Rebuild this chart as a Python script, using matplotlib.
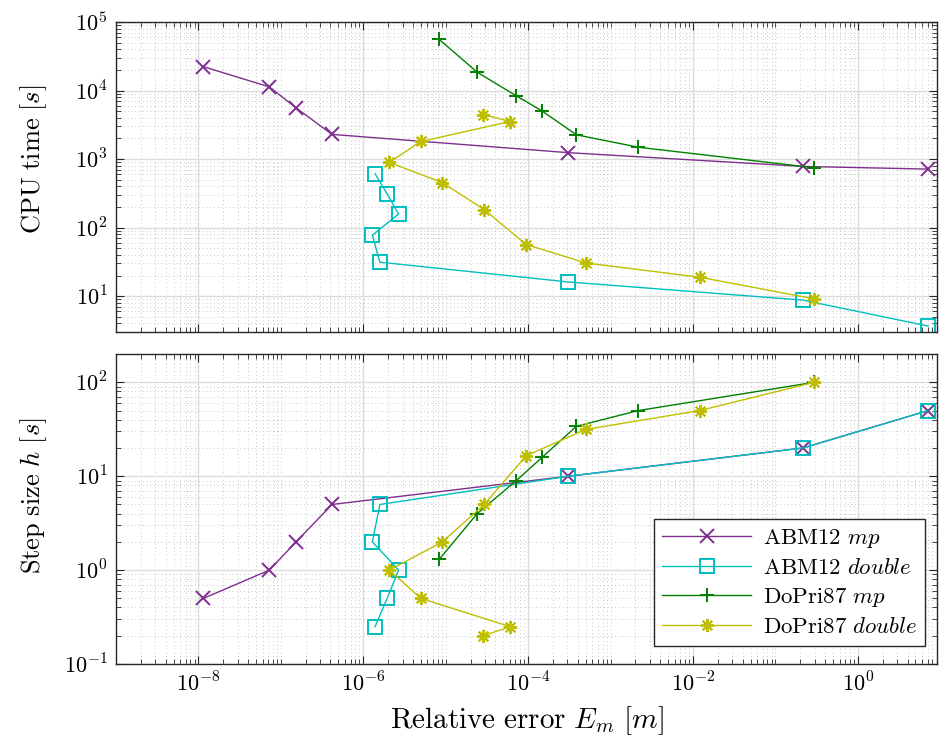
import numpy as np
import matplotlib
matplotlib.use("Agg")
import matplotlib.pyplot as plt
from matplotlib.ticker import FixedLocator, LogLocator, FuncFormatter, NullFormatter

# ---- data -------------------------------------------------------------
abm_mp_err = [1.15e-8, 7.26e-8, 1.53e-7, 4.18e-7, 3.08e-4, 0.217, 7.1]
abm_mp_cpu = [22300, 11300, 5590, 2290, 1240, 781, 714]
abm_mp_h = [0.5, 1, 2, 5, 10, 20, 50]

abm_db_err = [1.39e-6, 1.95e-6, 2.68e-6, 1.29e-6, 1.59e-6, 3.08e-4, 0.217, 7.1]
abm_db_cpu = [612, 309, 158, 77.3, 31.3, 16.1, 8.74, 3.66]
abm_db_h = [0.25, 0.5, 1, 2, 5, 10, 20, 50]

dp_mp_err = [8.34e-6, 2.41e-5, 7.21e-5, 1.49e-4, 3.85e-4, 2.16e-3, 0.295]
dp_mp_cpu = [55800, 18500, 8360, 4990, 2260, 1490, 748]
dp_mp_h = [1.3, 4, 9, 16, 34, 50, 100]

dp_db_err = [2.85e-5, 6.05e-5, 5.0e-6, 2.07e-6, 9.14e-6, 2.93e-5, 9.46e-5,
             5.0e-4, 1.2e-2, 0.295]
dp_db_cpu = [4470, 3530, 1805, 894, 452, 183, 56.6, 30.5, 18.9, 9.13]
dp_db_h = [0.2, 0.25, 0.5, 1, 2, 5, 16.5, 31.5, 50, 100]

labels = [r'$\mathrm{ABM12}\ mp$', r'$\mathrm{ABM12}\ double$',
          r'$\mathrm{DoPri87}\ mp$', r'$\mathrm{DoPri87}\ double$']

# ---- style ------------------------------------------------------------
plt.rcParams['mathtext.fontset'] = 'cm'
plt.rcParams['font.family'] = ['DejaVu Serif']

purple = '#7E2F8E'
cyan = '#00BFBF'
green = '#008000'
yellow = '#BFBF00'
asterisk = (8, 2, 0)

series = [
    (abm_mp_err, abm_mp_cpu, abm_mp_h, purple, 'x', 'full'),
    (abm_db_err, abm_db_cpu, abm_db_h, cyan, 's', 'none'),
    (dp_mp_err, dp_mp_cpu, dp_mp_h, green, '+', 'full'),
    (dp_db_err, dp_db_cpu, dp_db_h, yellow, asterisk, 'full'),
]

fig = plt.figure(figsize=(9.39, 7.46), dpi=100)
ax1 = fig.add_axes([0.1235, 0.555, 0.8743, 0.4155])
ax2 = fig.add_axes([0.1235, 0.1099, 0.8743, 0.4155])

for ax, col in ((ax1, 1), (ax2, 2)):
    for s, lab in zip(series, labels):
        err, cpu, h, c, m, fs = s
        y = cpu if col == 1 else h
        ax.plot(err, y, color=c, marker=m, fillstyle=fs, markersize=9.5,
                markeredgewidth=1.4, linewidth=1.0, label=lab)

def pow10(v, pos):
    return r'$10^{%d}$' % int(round(np.log10(v)))

for ax in (ax1, ax2):
    ax.set_xscale('log')
    ax.set_yscale('log')
    ax.set_xlim(1e-9, 9.1)
    ax.xaxis.set_major_locator(FixedLocator([1e-8, 1e-6, 1e-4, 1e-2, 1e0]))
    ax.xaxis.set_minor_locator(LogLocator(base=10, subs=np.arange(1, 10), numticks=100))
    ax.xaxis.set_minor_formatter(NullFormatter())
    ax.yaxis.set_major_locator(LogLocator(base=10, numticks=20))
    ax.yaxis.set_minor_locator(LogLocator(base=10, subs=np.arange(2, 10), numticks=100))
    ax.yaxis.set_minor_formatter(NullFormatter())
    ax.yaxis.set_major_formatter(FuncFormatter(pow10))
    ax.xaxis.set_major_formatter(FuncFormatter(pow10))
    ax.tick_params(which='both', direction='in', top=True, right=True,
                   labelsize=16, color='#262626')
    ax.tick_params(which='major', length=6, width=0.8, pad=6)
    ax.tick_params(which='minor', length=3.5, width=0.6)
    ax.grid(which='major', color='#dcdcdc', linewidth=1.0, linestyle='-')
    ax.grid(which='minor', color='#b4b4b4', linewidth=0.6, linestyle=(0, (1, 3.5)))
    ax.set_axisbelow(True)
    for sp in ax.spines.values():
        sp.set_color('#262626')
        sp.set_linewidth(1.0)

ax1.set_ylim(3, 1e5)
ax2.set_ylim(0.1, 200)
ax1.tick_params(labelbottom=False)

ax1.set_ylabel(r'$\mathrm{CPU\ time}\ [s]$', fontsize=19)
ax2.set_ylabel(r'$\mathrm{Step\ size}\ h\ [s]$', fontsize=19)
ax1.yaxis.set_label_coords(-0.082, 0.558)
ax2.yaxis.set_label_coords(-0.082, 0.542)
ax2.set_xlabel(r'$\mathrm{Relative\ error}\ E_m\ [m]$', fontsize=21, labelpad=6)

leg = ax2.legend(loc='lower right', bbox_to_anchor=(0.9854, 0.058),
                 fontsize=16.5, handlelength=3.9,
                 fancybox=False, framealpha=1, edgecolor='#262626',
                 borderaxespad=0.0, labelspacing=0.3, borderpad=0.35,
                 handletextpad=0.5)
leg.get_frame().set_linewidth(1.0)

fig.savefig('out.png', dpi=100)
